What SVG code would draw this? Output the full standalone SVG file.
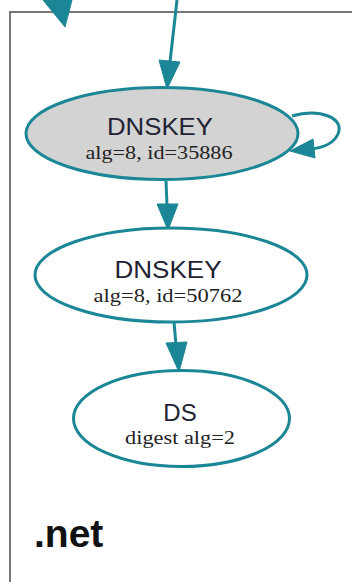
<svg xmlns="http://www.w3.org/2000/svg" width="352" height="582" viewBox="0 0 352 582">
<style>
.edge{fill:none;stroke:#1b8796;stroke-width:3}
.head{fill:#1b8796;stroke:#1b8796;stroke-width:1}
.node{stroke:#1b8796;stroke-width:3}
.t1{font-family:"Liberation Sans",Arial,sans-serif;font-size:24px;fill:#222233;text-anchor:middle}
.t2{font-family:"Liberation Serif","Times New Roman",serif;font-size:19px;fill:#222;text-anchor:middle}
</style>
<rect x="0" y="0" width="352" height="582" fill="#ffffff"/>
<g id="cluster">
<rect x="10" y="12" width="360" height="600" fill="none" stroke="#777" stroke-width="2"/>
<text x="34" y="547" font-family="'Liberation Sans',Arial,sans-serif" font-weight="bold" font-size="39" fill="#111">.net</text>
</g>
<g id="connectors">
<polygon class="head" points="43,0 72,0 65,27"/>
<line class="edge" x1="177" y1="0" x2="170" y2="62"/>
<polygon class="head" points="159,60 180,62 167,89"/>
<path class="edge" d="M292,116 C320,108 345,118 338,134 C333,145 322,148 310,149"/>
<polygon class="head" points="313,139 315,158 290,151"/>
<line class="edge" x1="166" y1="181" x2="167" y2="206"/>
<polygon class="head" points="157,204 178,204 168,230"/>
<line class="edge" x1="174" y1="322" x2="176" y2="345"/>
<polygon class="head" points="166,343 187,342 179,372"/>
</g>
<g id="node1">
<ellipse class="node" cx="162" cy="133.5" rx="136" ry="46" fill="#d3d3d3"/>
<text class="t1" x="160" y="135" textLength="106" lengthAdjust="spacingAndGlyphs">DNSKEY</text>
<text class="t2" x="159" y="159" textLength="147" lengthAdjust="spacingAndGlyphs">alg=8, id=35886</text>
</g>
<g id="node2">
<ellipse class="node" cx="171" cy="275" rx="136" ry="47" fill="#ffffff"/>
<text class="t1" x="168" y="278" textLength="107" lengthAdjust="spacingAndGlyphs">DNSKEY</text>
<text class="t2" x="168" y="302" textLength="149" lengthAdjust="spacingAndGlyphs">alg=8, id=50762</text>
</g>
<g id="node3">
<ellipse class="node" cx="181.5" cy="418.5" rx="108" ry="48" fill="#ffffff"/>
<text class="t1" x="180" y="421">DS</text>
<text class="t2" x="180" y="444" textLength="110" lengthAdjust="spacingAndGlyphs">digest alg=2</text>
</g>
</svg>
